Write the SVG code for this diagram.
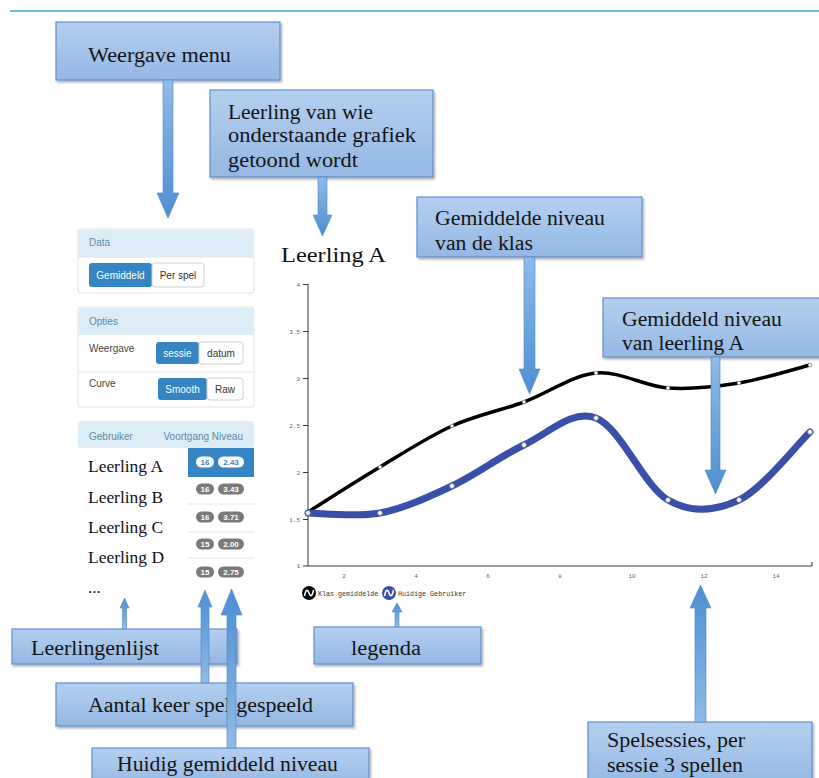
<svg xmlns="http://www.w3.org/2000/svg" width="819" height="778" viewBox="0 0 819 778">
<defs>
<linearGradient id="boxg" x1="0" y1="0" x2="0" y2="1"><stop offset="0" stop-color="#b4d0ef"/><stop offset="1" stop-color="#93b8e3"/></linearGradient>
<linearGradient id="arrDown" x1="0" y1="0" x2="0" y2="1"><stop offset="0" stop-color="#8fbbe8"/><stop offset="1" stop-color="#4d8fd2"/></linearGradient>
<linearGradient id="arrUp" x1="0" y1="1" x2="0" y2="0"><stop offset="0" stop-color="#8fbbe8"/><stop offset="1" stop-color="#4d8fd2"/></linearGradient>
<filter id="sh" x="-10%" y="-20%" width="130%" height="160%"><feDropShadow dx="1.5" dy="2" stdDeviation="1.2" flood-color="#000" flood-opacity="0.3"/></filter>
<clipPath id="c2"><rect x="210" y="90" width="223" height="87"/></clipPath>
<style>
.box{fill:url(#boxg);stroke:#5f8fcc;stroke-width:1.2;filter:url(#sh)}
.ct{font-family:"Liberation Serif",serif;font-size:20px;fill:#151515}
.down{fill:url(#arrDown);stroke:#4f88c6;stroke-width:0.6}
.up{fill:url(#arrUp);stroke:#4f88c6;stroke-width:0.6}
.ui{font-family:"Liberation Sans",Arial,sans-serif;font-size:10px}
.hd{fill:#dcedf7}
.hdt{fill:#5f8aa6}
.lbl{fill:#444}
.bb{fill:#3584c4}
.bw{fill:#fff;stroke:#cfcfcf;stroke-width:1}
.bwt{fill:#333;text-anchor:middle}
.bbt{fill:#fff;text-anchor:middle}
.pan{fill:#fff;stroke:#e2e2e2;stroke-width:1}
.bdg{fill:#7a7a7a}
.bdt{font-family:"Liberation Sans",Arial,sans-serif;font-size:8px;font-weight:bold;fill:#fff;text-anchor:middle}
.nm{font-family:"Liberation Serif",serif;font-size:17px;fill:#111}
.ax{stroke:#333;stroke-width:1;fill:none}
.tk{font-family:"Liberation Mono",monospace;font-size:6px;fill:#666}
.pt{fill:#fff;stroke:#999;stroke-width:0.8}
.sep{stroke:#e6e6e6;stroke-width:1}
</style>
</defs>
<rect width="819" height="778" fill="#fff"/>
<line x1="10" y1="11" x2="819" y2="11" stroke="#3aa6dd" stroke-width="1.5"/>

<g id="ui-panel">
<rect class="pan" x="78" y="229" width="176" height="64" rx="3"/>
<rect class="hd" x="78.5" y="229.5" width="175" height="27.5"/>
<line class="sep" x1="78" y1="257" x2="254" y2="257"/>
<text class="ui hdt" x="89" y="246">Data</text>
<rect class="bb" x="89" y="263" width="63" height="24" rx="3"/>
<rect class="bw" x="152" y="263" width="52" height="24" rx="3"/>
<text class="ui bbt" x="120.5" y="279">Gemiddeld</text>
<text class="ui bwt" x="178" y="279">Per spel</text>

<rect class="pan" x="78" y="307" width="176" height="100" rx="3"/>
<rect class="hd" x="78.5" y="307.5" width="175" height="27.5"/>
<text class="ui hdt" x="89" y="325">Opties</text>
<text class="ui lbl" x="89" y="352">Weergave</text>
<rect class="bb" x="156" y="342" width="43" height="22" rx="3"/>
<rect class="bw" x="199" y="342" width="44" height="22" rx="3"/>
<text class="ui bbt" x="177.5" y="357">sessie</text>
<text class="ui bwt" x="221" y="357">datum</text>
<line class="sep" x1="78" y1="372" x2="254" y2="372"/>
<text class="ui lbl" x="89" y="387">Curve</text>
<rect class="bb" x="158" y="378" width="49" height="22" rx="3"/>
<rect class="bw" x="207" y="378" width="36" height="22" rx="3"/>
<text class="ui bbt" x="182.5" y="393">Smooth</text>
<text class="ui bwt" x="225" y="393">Raw</text>

<rect class="hd" x="78" y="421" width="176" height="27" rx="3"/>
<text class="ui hdt" x="89" y="440">Gebruiker</text>
<text class="ui hdt" x="243" y="440" text-anchor="end">Voortgang Niveau</text>
<rect class="bb" x="188" y="448" width="66" height="29"/>
<line class="sep" x1="188" y1="504" x2="254" y2="504"/>
<line class="sep" x1="188" y1="532" x2="254" y2="532"/>
<line class="sep" x1="188" y1="558" x2="254" y2="558"/>
<rect x="196" y="456.5" width="18" height="11" rx="5.5" fill="#fff"/>
<rect x="218" y="456.5" width="26" height="11" rx="5.5" fill="#fff"/>
<text class="bdt" x="205" y="465" fill="#3584c4" style="fill:#3584c4">16</text>
<text class="bdt" x="231" y="465" style="fill:#3584c4">2.43</text>
<rect class="bdg" x="196" y="483.5" width="18" height="11" rx="5.5"/>
<rect class="bdg" x="218" y="483.5" width="26" height="11" rx="5.5"/>
<text class="bdt" x="205" y="492">16</text><text class="bdt" x="231" y="492">3.43</text>
<rect class="bdg" x="196" y="511.5" width="18" height="11" rx="5.5"/>
<rect class="bdg" x="218" y="511.5" width="26" height="11" rx="5.5"/>
<text class="bdt" x="205" y="520">16</text><text class="bdt" x="231" y="520">3.71</text>
<rect class="bdg" x="196" y="538.5" width="18" height="11" rx="5.5"/>
<rect class="bdg" x="218" y="538.5" width="26" height="11" rx="5.5"/>
<text class="bdt" x="205" y="547">15</text><text class="bdt" x="231" y="547">2.00</text>
<rect class="bdg" x="196" y="566.5" width="18" height="11" rx="5.5"/>
<rect class="bdg" x="218" y="566.5" width="26" height="11" rx="5.5"/>
<text class="bdt" x="205" y="575">15</text><text class="bdt" x="231" y="575">2.75</text>
<text class="nm" x="88" y="472" textLength="75" lengthAdjust="spacingAndGlyphs">Leerling A</text>
<text class="nm" x="88" y="503" textLength="75" lengthAdjust="spacingAndGlyphs">Leerling B</text>
<text class="nm" x="88" y="533" textLength="75" lengthAdjust="spacingAndGlyphs">Leerling C</text>
<text class="nm" x="88" y="563" textLength="76" lengthAdjust="spacingAndGlyphs">Leerling D</text>
<text class="nm" x="88" y="593">...</text>
</g>

<g id="chart">
<text x="281" y="262" font-family="Liberation Serif, serif" font-size="22" fill="#111" textLength="105" lengthAdjust="spacingAndGlyphs">Leerling A</text>
<path class="ax" d="M308,284 V566 H812 V562"/>
<g class="ax">
<path d="M303,284.5H308M303,331.5H308M303,378.5H308M303,425.5H308M303,472.5H308M303,519.5H308M303,566H308"/>
</g>
<g class="tk" text-anchor="end">
<text x="300" y="287">4</text><text x="300" y="334">3.5</text><text x="300" y="381">3</text><text x="300" y="428">2.5</text><text x="300" y="475">2</text><text x="300" y="522">1.5</text><text x="300" y="568">1</text>
</g>
<g class="tk" text-anchor="middle">
<text x="344" y="578">2</text><text x="416" y="578">4</text><text x="488" y="578">6</text><text x="560" y="578">8</text><text x="632" y="578">10</text><text x="704" y="578">12</text><text x="776" y="578">14</text>
</g>
<path fill="none" stroke="#000" stroke-width="3.5" stroke-linecap="round" d="M308,512 C320,504.5 356,481.3 380,467 C404,452.7 428,436.8 452,426 C476,415.2 500,410.8 524,402 C548,393.2 572,375.3 596,373 C620,370.7 644.2,386.3 668,388 C691.8,389.7 715.3,386.8 739,383 C762.7,379.2 798.2,368 810,365"/>
<path fill="none" stroke="#3a4fa8" stroke-width="7" stroke-linecap="round" d="M308,513 C320,513 356,517.5 380,513 C404,508.5 428,497.3 452,486 C476,474.7 500,456.3 524,445 C548,433.7 572,408.8 596,418 C620,427.2 644.2,486.3 668,500 C691.8,513.7 715.3,511.3 739,500 C762.7,488.7 798.2,443.3 810,432"/>
<g>
<circle class="pt" cx="380" cy="467" r="1.8"/><circle class="pt" cx="452" cy="426" r="1.8"/><circle class="pt" cx="524" cy="402" r="1.8"/><circle class="pt" cx="596" cy="373" r="1.8"/><circle class="pt" cx="668" cy="388" r="1.8"/><circle class="pt" cx="739" cy="383" r="1.8"/><circle class="pt" cx="810" cy="365" r="1.8"/>
<circle class="pt" cx="308" cy="513" r="2.3"/><circle class="pt" cx="380" cy="513" r="2.3"/><circle class="pt" cx="452" cy="486" r="2.3"/><circle class="pt" cx="524" cy="445" r="2.3"/><circle class="pt" cx="596" cy="418" r="2.3"/><circle class="pt" cx="668" cy="500" r="2.3"/><circle class="pt" cx="739" cy="500" r="2.3"/><circle class="pt" cx="810" cy="432" r="2.3"/>
</g>
<g id="legend">
<circle cx="309" cy="593" r="7" fill="#000"/>
<path d="M304.5,596 C306,588 308,590 309,593 C310,596 312,598 313.5,590" fill="none" stroke="#fff" stroke-width="1.6"/>
<text x="318" y="595.5" font-family="Liberation Mono, monospace" font-size="6.7" fill="#333">Klas gemiddelde</text>
<circle cx="389" cy="593" r="7" fill="#3a4fa8"/>
<path d="M384.5,596 C386,588 388,590 389,593 C390,596 392,598 393.5,590" fill="none" stroke="#fff" stroke-width="1.6"/>
<text x="398" y="595.5" font-family="Liberation Mono, monospace" font-size="6.7" fill="#333">Huidige Gebruiker</text>
</g>
</g>

<g id="callout-weergave">
<rect class="box" x="56" y="22" width="224" height="58"/>
<text class="ct" x="88" y="62" textLength="143" lengthAdjust="spacingAndGlyphs">Weergave menu</text>
</g>
<g id="callout-leerling">
<rect class="box" x="210" y="90" width="223" height="87"/>
<g clip-path="url(#c2)">
<text class="ct" x="228" y="119" textLength="145" lengthAdjust="spacingAndGlyphs">Leerling van wie</text>
<text class="ct" x="228" y="142" textLength="188" lengthAdjust="spacingAndGlyphs">onderstaande grafiek</text>
<text class="ct" x="228" y="167" textLength="130" lengthAdjust="spacingAndGlyphs">getoond wordt</text>
</g>
</g>
<g id="callout-klas">
<rect class="box" x="417" y="197" width="225" height="60"/>
<text class="ct" x="435" y="225" textLength="170" lengthAdjust="spacingAndGlyphs">Gemiddelde niveau</text>
<text class="ct" x="435" y="250" textLength="98" lengthAdjust="spacingAndGlyphs">van de klas</text>
</g>
<g id="callout-leerlingA">
<rect class="box" x="603" y="298" width="222" height="59"/>
<text class="ct" x="622" y="326" textLength="160" lengthAdjust="spacingAndGlyphs">Gemiddeld niveau</text>
<text class="ct" x="622" y="350" textLength="122" lengthAdjust="spacingAndGlyphs">van leerling A</text>
</g>
<g id="callout-leerlingenlijst">
<rect class="box" x="12" y="629" width="225" height="35"/>
<text class="ct" x="31" y="655" textLength="128" lengthAdjust="spacingAndGlyphs">Leerlingenlijst</text>
</g>
<g id="callout-legenda">
<rect class="box" x="314" y="627" width="167" height="37"/>
<text class="ct" x="351" y="655" textLength="70" lengthAdjust="spacingAndGlyphs">legenda</text>
</g>
<g id="callout-aantal">
<rect class="box" x="56" y="683" width="297" height="43"/>
<text class="ct" x="88" y="712" textLength="225" lengthAdjust="spacingAndGlyphs">Aantal keer spel gespeeld</text>
</g>
<g id="callout-huidig">
<rect class="box" x="92" y="748" width="277" height="40"/>
<text class="ct" x="117" y="771" textLength="221" lengthAdjust="spacingAndGlyphs">Huidig gemiddeld niveau</text>
</g>
<g id="callout-spelsessies">
<rect class="box" x="588" y="722" width="224" height="66"/>
<text class="ct" x="607" y="747" textLength="138" lengthAdjust="spacingAndGlyphs">Spelsessies, per</text>
<text class="ct" x="607" y="772" textLength="136" lengthAdjust="spacingAndGlyphs">sessie 3 spellen</text>
</g>

<g id="connectors">
<path class="down" d="M163,80 H173 V193 H179 L168,218 L157,193 H163 Z"/>
<path class="down" d="M318,177 H327 V215 H332 L322.5,236 L313,215 H318 Z"/>
<path class="down" d="M524,257 H535 V369 H540 L529.5,394 L519,369 H524 Z"/>
<path class="down" d="M711,357 H720 V470 H726 L715.5,494 L705,470 H711 Z"/>
<path class="up" d="M122.5,629 H126.5 V608 H129 L124.5,598 L120,608 H122.5 Z"/>
<path class="up" d="M201,683 H209 V607 H212 L205,590 L198,607 H201 Z"/>
<path class="up" d="M227,748 H236 V615 H242 L231.5,589 L221,615 H227 Z"/>
<path class="up" d="M395,627 H399 V612 H402 L397,603 L392,612 H395 Z"/>
<path class="up" d="M695,722 H706 V608 H711 L700.5,585 L690,608 H695 Z"/>
</g>
</svg>
